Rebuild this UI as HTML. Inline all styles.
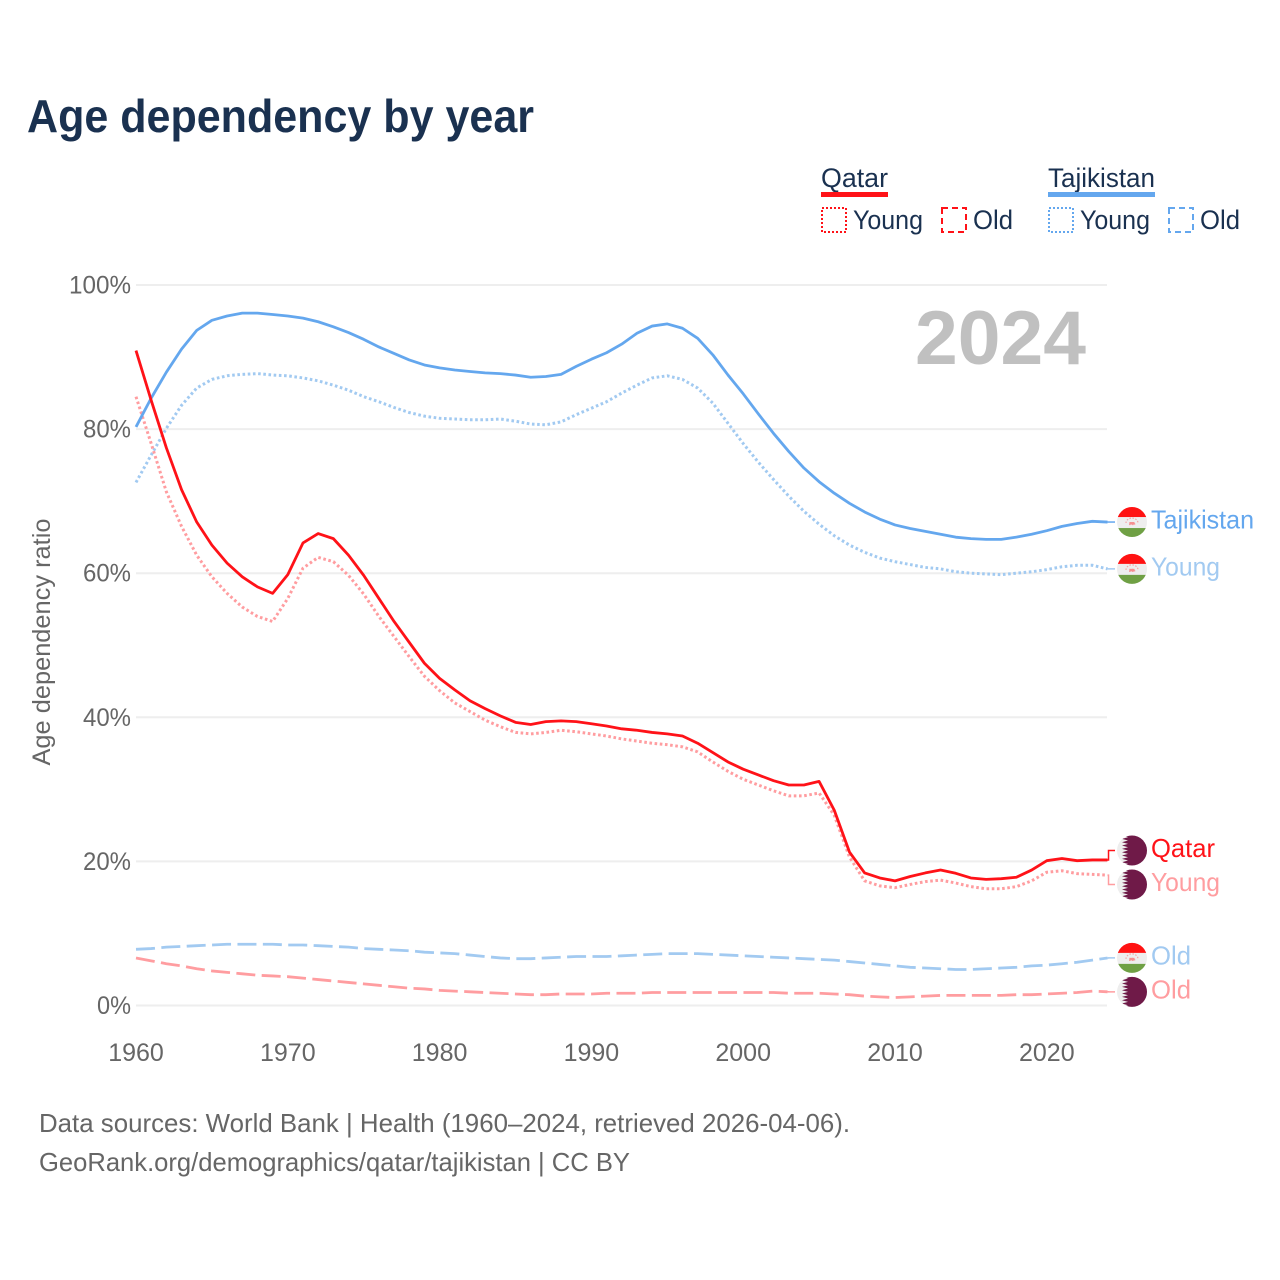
<!DOCTYPE html>
<html lang="en">
<head>
<meta charset="utf-8">
<title>Age dependency by year</title>
<style>
html,body{margin:0;padding:0;background:#fff;}
svg{display:block;font-family:"Liberation Sans",sans-serif;}
</style>
</head>
<body>
<svg id="chart" xmlns="http://www.w3.org/2000/svg" width="1280" height="1280" viewBox="0 0 1280 1280">
<defs>
<clipPath id="flag-clip"><circle cx="0" cy="0" r="15"/></clipPath>
<g id="flag-tj" clip-path="url(#flag-clip)">
<rect x="-16" y="-16" width="32" height="32" fill="#eeeeee"/>
<rect x="-16" y="-16" width="32" height="11" fill="#ff1212"/>
<rect x="-16" y="6" width="32" height="10" fill="#6fa044"/>
<path d="M-3 2.5h6l-1-2h-4zM-6 1a6 5 0 0 1 12 0" fill="none" stroke="#f7a3a3" stroke-width="1.2" stroke-dasharray="1.5 1.5"/>
<rect x="-2.5" y="0" width="5" height="2.5" fill="#f58f8f"/>
</g>
<g id="flag-qa" clip-path="url(#flag-clip)">
<rect x="-16" y="-16" width="32" height="32" fill="#eeeeee"/>
<polygon fill="#6f1a48" points="16,-16 -10,-16 -10,-15 -4,-13.33 -10,-11.67 -4,-10 -10,-8.33 -4,-6.67 -10,-5 -4,-3.33 -10,-1.67 -4,0 -10,1.67 -4,3.33 -10,5 -4,6.67 -10,8.33 -4,10 -10,11.67 -4,13.33 -10,15 -10,16 16,16"/>
</g>
</defs>

<rect x="0" y="0" width="1280" height="1280" fill="#ffffff"/>

<text x="27" y="132" font-size="46" font-weight="700" fill="#1a3150" textLength="507" lengthAdjust="spacingAndGlyphs">Age dependency by year</text>

<g font-size="27" fill="#1a3150">
<g>
<text x="821" y="187" textLength="67" lengthAdjust="spacingAndGlyphs">Qatar</text>
<rect x="821" y="192" width="67" height="5" fill="#ff1218"/>
<rect x="822" y="208" width="24" height="24" fill="none" stroke="#ff1218" stroke-width="2" stroke-dasharray="2 2"/>
<text x="853" y="229" textLength="70" lengthAdjust="spacingAndGlyphs">Young</text>
<rect x="942" y="208" width="24" height="24" fill="none" stroke="#ff1218" stroke-width="2" stroke-dasharray="6 4"/>
<text x="973" y="229" textLength="40" lengthAdjust="spacingAndGlyphs">Old</text>
</g>
<g>
<text x="1048" y="187" textLength="107" lengthAdjust="spacingAndGlyphs">Tajikistan</text>
<rect x="1048" y="192" width="107" height="5" fill="#64a7ee"/>
<rect x="1049" y="208" width="24" height="24" fill="none" stroke="#64a7ee" stroke-width="2" stroke-dasharray="2 2"/>
<text x="1080" y="229" textLength="70" lengthAdjust="spacingAndGlyphs">Young</text>
<rect x="1169" y="208" width="24" height="24" fill="none" stroke="#64a7ee" stroke-width="2" stroke-dasharray="6 4"/>
<text x="1200" y="229" textLength="40" lengthAdjust="spacingAndGlyphs">Old</text>
</g>
</g>

<g id="grid"></g>
<g id="yticks"></g>
<g id="xticks"></g>
<text transform="translate(50 642) rotate(-90)" text-anchor="middle" font-size="25" fill="#666666" textLength="247" lengthAdjust="spacingAndGlyphs">Age dependency ratio</text>
<text x="915" y="364" font-size="76" font-weight="700" fill="#c0c0c0" textLength="171" lengthAdjust="spacingAndGlyphs">2024</text>
<g id="series"></g>
<g id="labels"></g>

<text x="39" y="1132" font-size="26" fill="#666666" textLength="811" lengthAdjust="spacingAndGlyphs">Data sources: World Bank | Health (1960–2024, retrieved 2026-04-06).</text>
<text x="39" y="1171" font-size="26" fill="#666666" textLength="591" lengthAdjust="spacingAndGlyphs">GeoRank.org/demographics/qatar/tajikistan | CC BY</text>
</svg>

<script>
const startYear = 1960;
const xTickLabels = [1960, 1970, 1980, 1990, 2000, 2010, 2020];
const yTickLabels = [0, 20, 40, 60, 80, 100];

const qatarTotal = [
  90.9, 84.0, 77.4, 71.6, 67.1, 63.9, 61.4, 59.5, 58.1, 57.2,
  59.8, 64.2, 65.5, 64.8, 62.5, 59.7, 56.5, 53.3, 50.4, 47.5,
  45.4, 43.8, 42.3, 41.2, 40.2, 39.3, 39.0, 39.4, 39.5, 39.4,
  39.1, 38.8, 38.4, 38.2, 37.9, 37.7, 37.4, 36.4, 35.1, 33.8,
  32.8, 32.0, 31.2, 30.6, 30.6, 31.1, 27.1, 21.3, 18.4, 17.7,
  17.3, 17.9, 18.4, 18.8, 18.35, 17.7, 17.5, 17.6, 17.8, 18.8,
  20.1, 20.4, 20.1, 20.2, 20.2
];
const qatarYoung = [
  84.5, 78.0, 71.3, 66.5, 62.5, 59.5, 57.2, 55.3, 54.0, 53.3,
  56.5, 60.7, 62.2, 61.6, 59.7, 57.1, 54.0, 51.2, 48.4, 45.7,
  43.7, 42.0, 40.8, 39.6, 38.7, 37.9, 37.7, 37.9, 38.2, 38.0,
  37.7, 37.4, 37.0, 36.7, 36.4, 36.2, 35.9, 35.2, 33.8, 32.5,
  31.4, 30.6, 29.8, 29.1, 29.1, 29.5, 26.4, 20.6, 17.3, 16.6,
  16.35, 16.8, 17.2, 17.4, 17.0, 16.5, 16.2, 16.2, 16.5, 17.3,
  18.5, 18.7, 18.3, 18.2, 18.1
];
const qatarOld = [
  6.6, 6.2, 5.8, 5.5, 5.1, 4.8, 4.6, 4.4, 4.2, 4.1,
  4.0, 3.8, 3.6, 3.4, 3.2, 3.0, 2.8, 2.6, 2.4, 2.3,
  2.1, 2.0, 1.9, 1.8, 1.7, 1.6, 1.5, 1.5, 1.6, 1.6,
  1.6, 1.7, 1.7, 1.7, 1.8, 1.8, 1.8, 1.8, 1.8, 1.8,
  1.8, 1.8, 1.8, 1.7, 1.7, 1.7, 1.6, 1.5, 1.3, 1.2,
  1.1, 1.2, 1.3, 1.4, 1.4, 1.4, 1.4, 1.4, 1.5, 1.5,
  1.6, 1.7, 1.8, 2.0, 1.9
];
const tajikistanTotal = [
  80.3, 84.3, 87.9, 91.1, 93.7, 95.1, 95.7, 96.1, 96.1, 95.9,
  95.7, 95.4, 94.9, 94.2, 93.4, 92.46, 91.4, 90.5, 89.6, 88.9,
  88.5, 88.2, 88.0, 87.8, 87.7, 87.5, 87.2, 87.3, 87.6, 88.7,
  89.7, 90.6, 91.8, 93.3, 94.3, 94.6, 94.0, 92.6, 90.3, 87.5,
  84.9, 82.1, 79.4, 76.9, 74.6, 72.7, 71.1, 69.7, 68.5, 67.5,
  66.7, 66.2, 65.8, 65.4, 65.0, 64.8, 64.7, 64.7, 65.0, 65.4,
  65.9, 66.5, 66.9, 67.2, 67.1
];
const tajikistanYoung = [
  72.6, 76.4, 80.1, 83.3, 85.7, 86.9, 87.4, 87.6, 87.7, 87.5,
  87.4, 87.1, 86.7, 86.1, 85.4, 84.5, 83.8, 83.0, 82.3, 81.8,
  81.5, 81.4, 81.3, 81.3, 81.4, 81.1, 80.7, 80.6, 81.0, 82.0,
  82.9, 83.8, 85.0, 86.1, 87.1, 87.4, 86.9, 85.7, 83.6, 80.8,
  78.0, 75.4, 73.0, 70.7, 68.6, 66.8, 65.2, 63.9, 62.9, 62.1,
  61.6, 61.2, 60.8, 60.6, 60.2, 60.0, 59.9, 59.8, 60.0, 60.2,
  60.5, 60.9, 61.1, 61.1, 60.6
];
const tajikistanOld = [
  7.8, 7.9, 8.1, 8.2, 8.3, 8.4, 8.5, 8.5, 8.5, 8.5,
  8.4, 8.4, 8.3, 8.2, 8.1, 7.9, 7.8, 7.7, 7.6, 7.4,
  7.3, 7.2, 7.0, 6.8, 6.6, 6.5, 6.5, 6.6, 6.7, 6.8,
  6.8, 6.8, 6.9, 7.0, 7.1, 7.2, 7.2, 7.2, 7.1, 7.0,
  6.9, 6.8, 6.7, 6.6, 6.5, 6.4, 6.3, 6.1, 5.9, 5.7,
  5.5, 5.3, 5.2, 5.1, 5.0, 5.0, 5.1, 5.2, 5.3, 5.5,
  5.6, 5.8, 6.0, 6.3, 6.6
];

const NS = 'http://www.w3.org/2000/svg';
const xScale = function (year) { return 136 + (year - 1960) * 15.18; };
const yScale = function (pct) { return 1005.5 - pct * 7.205; };

function make(tag, attrs, parent, text) {
  const el = document.createElementNS(NS, tag);
  Object.keys(attrs).forEach(function (k) { el.setAttribute(k, attrs[k]); });
  if (text !== undefined) el.textContent = text;
  parent.appendChild(el);
  return el;
}

const gridG = document.getElementById('grid');
const yTickG = document.getElementById('yticks');
const xTickG = document.getElementById('xticks');
const seriesG = document.getElementById('series');
const labelsG = document.getElementById('labels');

yTickLabels.forEach(function (v) {
  const line = make('line', { x1: 136, x2: 1107, y1: yScale(v), y2: yScale(v), stroke: '#eeeeee', 'stroke-width': 2 }, gridG);
  
  
  const str = v + '%';
  const t = make('text', { x: 131, y: yScale(v) + 8.5, 'text-anchor': 'end', 'font-size': 25, fill: '#666666', textLength: 14 * str.length + 6, lengthAdjust: 'spacingAndGlyphs' }, yTickG, str);
  
  
});

xTickLabels.forEach(function (v) {
  const t = make('text', { x: xScale(v), y: 1061, 'text-anchor': 'middle', 'font-size': 25, fill: '#666666' }, xTickG, String(v));
  
  
});

const seriesDefs = [
  { id: 'tajikistan-old', label: 'Old', flag: 'flag-tj', values: tajikistanOld, color: '#a2caf1', dash: '19 6.4', width: 2.8 },
  { id: 'qatar-old', label: 'Old', flag: 'flag-qa', values: qatarOld, color: '#ff9da0', dash: '19 6.4', width: 2.8 },
  { id: 'tajikistan-young', label: 'Young', flag: 'flag-tj', values: tajikistanYoung, color: '#a2caf1', dash: '2.6 2.6', width: 3 },
  { id: 'qatar-young', label: 'Young', flag: 'flag-qa', values: qatarYoung, color: '#ff9da0', dash: '2.6 2.6', width: 3 },
  { id: 'tajikistan-total', label: 'Tajikistan', flag: 'flag-tj', values: tajikistanTotal, color: '#64a7ee', dash: '', width: 2.8 },
  { id: 'qatar-total', label: 'Qatar', flag: 'flag-qa', values: qatarTotal, color: '#ff1218', dash: '', width: 2.8 }
];

/* End labels: start at the series' last value, then spread apart so flags do not overlap. */
const minGap = 34;
const placed = seriesDefs.map(function (s) {
  const last = s.values[s.values.length - 1];
  return { def: s, lineY: yScale(last), y: yScale(last) };
}).sort(function (a, b) { return a.lineY - b.lineY; });
for (let pass = 0; pass < 20; pass++) {
  for (let i = 1; i < placed.length; i++) {
    const gap = placed[i].y - placed[i - 1].y;
    if (gap < minGap) {
      const push = (minGap - gap) / 2;
      placed[i - 1].y -= push;
      placed[i].y += push;
    }
  }
}

seriesDefs.forEach(function (s) {
  const pts = s.values.map(function (v, i) {
    return xScale(startYear + i).toFixed(2) + ',' + yScale(v).toFixed(2);
  }).join(' ');
  const attrs = { points: pts, fill: 'none', stroke: s.color, 'stroke-width': s.width, 'stroke-linejoin': 'round' };
  if (s.dash) attrs['stroke-dasharray'] = s.dash;
  const line = make('polyline', attrs, seriesG);
  
  
});

placed.forEach(function (p) {
  const s = p.def;
  const endX = xScale(startYear + s.values.length - 1);
  const connector = make('polyline', {
    points: endX + ',' + p.lineY + ' ' + (endX + 1) + ',' + p.lineY + ' ' + (endX + 1) + ',' + p.y + ' 1115,' + p.y,
    fill: 'none', stroke: s.color, 'stroke-width': 1.5
  }, labelsG);
  
  
  const flag = make('use', { href: '#' + s.flag, x: 1132, y: p.y }, labelsG);
  
  
  const t = make('text', { x: 1151, y: p.y + 6.5, 'font-size': 26, fill: s.color }, labelsG, s.label);
  t.setAttribute('textLength', s.label === 'Tajikistan' ? 103 : s.label === 'Qatar' ? 64 : s.label === 'Young' ? 69 : 40);
  t.setAttribute('lengthAdjust', 'spacingAndGlyphs');
  
  
});
</script>
</body>
</html>
